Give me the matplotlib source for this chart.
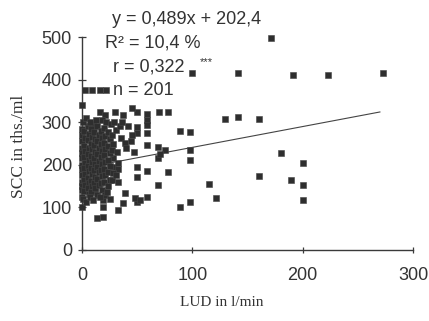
import matplotlib
matplotlib.use("Agg")
import matplotlib.pyplot as plt

# ---- data ----
lud = [100, 141, 191, 223, 273, 171, 130, 141, 160, 180, 200, 160, 189, 200, 200,
       115, 121, 98, 89, 98, 98, 89, 98, 70, 78, 78, 69, 59, 50, 50,
       59, 59, 50, 50, 59, 59, 69, 75, 69, 50, 45, 37, 30, 35, 39,
       28, 28, 33, 33, 50, 59, 39, 48, 53, 37, 33, 14, 19, 19, 12,
       19, 0, 0, 0, 3, 9, 16, 22, 16, 21, 18, 10, 10, 59, 71,
       40, 44, 47,
       0, 0, 0, 0, 0, 0, 0, 0, 0, 0, 0, 0,
       2, 3, 2, 3, 2, 3, 2, 3, 2, 3, 2,
       5, 6, 5, 6, 5, 6, 5, 6, 5, 6, 5, 6,
       8, 9, 8, 9, 8, 9, 8, 9, 8, 9, 8,
       11, 12, 11, 12, 11, 12, 11, 12, 11, 12,
       14, 15, 14, 15, 14, 15, 14, 15, 14, 15, 14,
       17, 18, 17, 18, 17, 18, 17, 18, 17, 18,
       20, 21, 20, 21, 20, 21, 20, 21, 20, 21,
       24, 25, 24, 25, 24, 25, 24, 25, 24, 25,
       27, 28, 27, 28, 27,
       31, 32, 31, 34, 33,
       1, 4, 7, 13, 22, 26, 29, 1, 4, 7, 10, 16, 23, 36, 42, 45]
scc = [415, 415, 411, 411, 415, 498, 307, 312, 307, 228, 204, 174, 164, 153, 117,
       155, 122, 113, 101, 235, 212, 280, 278, 324, 324, 182, 152, 125, 113, 324,
       320, 306, 289, 275, 275, 246, 242, 235, 216, 195, 333, 317, 324, 263, 251,
       215, 195, 205, 190, 172, 185, 134, 122, 117, 110, 94, 75, 78, 101, 141,
       117, 125, 100, 340, 375, 375, 375, 375, 324, 317, 305, 295, 290, 293, 225,
       240, 255, 230,
       285, 270, 255, 240, 228, 215, 200, 190, 175, 160, 150, 140,
       280, 262, 245, 232, 218, 205, 193, 178, 165, 152, 138,
       290, 272, 258, 240, 226, 212, 198, 185, 170, 157, 145, 132,
       283, 266, 250, 236, 221, 207, 192, 178, 163, 150, 136,
       277, 260, 246, 230, 216, 201, 187, 172, 158, 146,
       290, 270, 255, 240, 225, 210, 196, 182, 167, 152, 130,
       280, 263, 248, 233, 218, 203, 188, 173, 158, 140,
       287, 268, 252, 236, 222, 207, 190, 176, 160, 128,
       278, 260, 243, 228, 212, 198, 182, 165, 150, 120,
       270, 250, 235, 180, 165,
       282, 230, 175, 290, 160,
       300, 310, 300, 305, 300, 295, 300, 120, 112, 125, 118, 125, 135, 300, 290, 270]

fit_x = [0, 270]
fit_y = [192, 324]

x_ticks = [0, 100, 200, 300]
y_ticks = [0, 100, 200, 300, 400, 500]

W, H = 429, 321
fig = plt.figure(figsize=(W / 100, H / 100), dpi=100)
ax = fig.add_axes([82 / W, 1 - 250 / H, (413 - 82) / W, (250 - 37) / H])

ink = "#2e2e2e"
ax.plot(fit_x, fit_y, color="#444444", lw=0.8, zorder=2)
ax.plot(lud, scc, linestyle="none", marker="s", markersize=3.8,
        markerfacecolor=ink, markeredgecolor="#444444", markeredgewidth=0.4,
        clip_on=False, zorder=3)

ax.set_xlim(0, 300)
ax.set_ylim(0, 500)
ax.set_xticks(x_ticks)
ax.set_yticks(y_ticks)
for s in ["top", "right"]:
    ax.spines[s].set_visible(False)
for s in ["left", "bottom"]:
    ax.spines[s].set_color("#3a3a3a")
    ax.spines[s].set_linewidth(1.0)

sans = "Liberation Sans"
serif = "Liberation Serif"
ax.tick_params(axis="y", direction="inout", length=5.5, width=0.9, color="#3a3a3a",
               pad=4.5, labelsize=13, labelcolor="#333333")
ax.tick_params(axis="x", direction="inout", length=5, width=0.9, color="#3a3a3a",
               pad=9.5, labelsize=13, labelcolor="#333333")
for lab in ax.get_xticklabels() + ax.get_yticklabels():
    lab.set_fontfamily(sans)

fig.text(222 / W, 1 - 303 / H, "LUD in l/min", family=serif, fontsize=11,
         color="#333333", ha="center", va="center")
fig.text(19 / W, 1 - 146 / H, "SCC in ths./ml", family=serif, fontsize=12.5,
         color="#333333", ha="center", va="center", rotation=90)

fig.text(112 / W, 1 - 20 / H, "y = 0,489x + 202,4", family=sans, fontsize=13,
         color="#333333", ha="left", va="center")
fig.text(105 / W, 1 - 43 / H, "R² = 10,4 %", family=sans, fontsize=13,
         color="#333333", ha="left", va="center")
fig.text(113 / W, 1 - 67 / H, "r = 0,322", family=sans, fontsize=13,
         color="#333333", ha="left", va="center")
fig.text(200 / W, 1 - 62 / H, "***", family=sans, fontsize=8,
         color="#333333", ha="left", va="center")
fig.text(113 / W, 1 - 91 / H, "n = 201", family=sans, fontsize=13,
         color="#333333", ha="left", va="center")

fig.savefig("out.png", dpi=100, facecolor="white")
